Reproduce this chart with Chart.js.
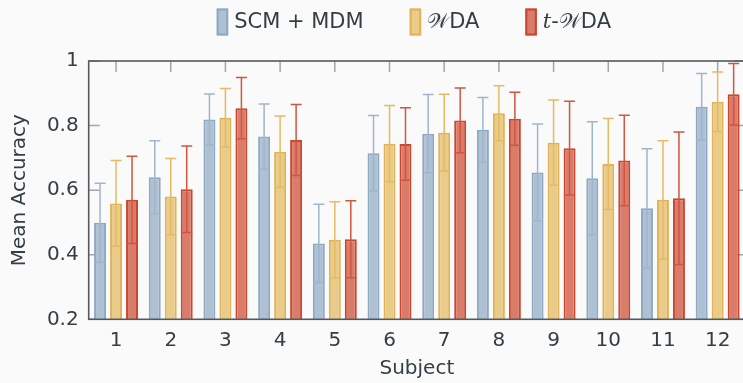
<!DOCTYPE html>
<html>
<head>
<meta charset="utf-8">
<script src="https://cdn.jsdelivr.net/npm/chart.js@4/dist/chart.umd.min.js"></script>
<style>
  html, body { margin: 0; padding: 0; background: #fafafa; overflow: hidden; }
</style>
</head>
<body>
<canvas id="accChart" width="746" height="383"></canvas>
<script>
// data
const subjects = ["1", "2", "3", "4", "5", "6", "7", "8", "9", "10", "11", "12"];
const seriesNames = ["SCM + MDM", "𝒲DA", "t-𝒲DA"];

const scmMean = [0.499, 0.640, 0.819, 0.766, 0.435, 0.714, 0.775, 0.787, 0.655, 0.637, 0.544, 0.858];
const scmStd  = [0.122, 0.113, 0.079, 0.101, 0.121, 0.117, 0.121, 0.100, 0.150, 0.175, 0.184, 0.103];
const wdaMean = [0.559, 0.580, 0.824, 0.719, 0.446, 0.744, 0.778, 0.838, 0.747, 0.681, 0.570, 0.874];
const wdaStd  = [0.133, 0.118, 0.091, 0.111, 0.118, 0.118, 0.119, 0.085, 0.132, 0.141, 0.183, 0.092];
const twdaMean = [0.570, 0.603, 0.854, 0.755, 0.448, 0.743, 0.816, 0.821, 0.730, 0.692, 0.575, 0.897];
const twdaStd  = [0.135, 0.134, 0.095, 0.110, 0.119, 0.112, 0.100, 0.082, 0.145, 0.140, 0.205, 0.095];

const yTicks = [0.2, 0.4, 0.6, 0.8, 1];

const fills   = ["#aec0d3", "#eacb89", "#db7c6b"];
const borders = ["#8ea8c2", "#e0b357", "#c9472f"];
const errCols = ["#9fb5cc", "#e4bb63", "#cf563f"];
const textCol = "#323e43";
const FONT = "'DejaVu Sans', sans-serif";

const stds = [scmStd, wdaStd, twdaStd];

// background
const bgPlugin = {
  id: "bg",
  beforeDraw(chart) {
    const ctx = chart.ctx;
    ctx.save();
    ctx.fillStyle = "#fafafa";
    ctx.fillRect(0, 0, chart.width, chart.height);
    ctx.restore();
  }
};

// frame + inward ticks (pgfplots look)
const framePlugin = {
  id: "frame",
  beforeDatasetsDraw(chart) {
    const { ctx, chartArea: a, scales } = chart;
    ctx.save();
    ctx.strokeStyle = "#a3a7a8";
    ctx.lineWidth = 1.5;
    subjects.forEach((s, i) => {
      const x = scales.x.getPixelForValue(i);
      ctx.beginPath();
      ctx.moveTo(x, a.top); ctx.lineTo(x, a.top + 11);
      ctx.moveTo(x, a.bottom); ctx.lineTo(x, a.bottom - 11);
      ctx.stroke();
    });
    yTicks.forEach(v => {
      const y = scales.y.getPixelForValue(v);
      ctx.beginPath();
      ctx.moveTo(a.left, y); ctx.lineTo(a.left + 11, y);
      ctx.moveTo(a.right, y); ctx.lineTo(a.right - 11, y);
      ctx.stroke();
    });
    ctx.restore();
  },
  afterDatasetsDraw(chart) {
    const { ctx, chartArea: a, scales } = chart;
    // error bars
    ctx.save();
    ctx.lineWidth = 1.5;
    chart.data.datasets.forEach((ds, i) => {
      const meta = chart.getDatasetMeta(i);
      ctx.strokeStyle = errCols[i];
      meta.data.forEach((bar, j) => {
        const m = ds.data[j], sd = stds[i][j];
        const yHi = scales.y.getPixelForValue(m + sd);
        const yLo = scales.y.getPixelForValue(m - sd);
        const hw = bar.width / 2 - 0.5;
        ctx.beginPath();
        ctx.moveTo(bar.x, yHi); ctx.lineTo(bar.x, yLo);
        ctx.moveTo(bar.x - hw, yHi); ctx.lineTo(bar.x + hw, yHi);
        ctx.moveTo(bar.x - hw, yLo); ctx.lineTo(bar.x + hw, yLo);
        ctx.stroke();
      });
    });
    ctx.strokeStyle = "#505b60";
    ctx.lineWidth = 1.6;
    ctx.strokeRect(a.left, a.top, a.right - a.left, a.bottom - a.top);
    ctx.restore();
  }
};

// legend with italic t
const legendPlugin = {
  id: "legendBox",
  afterDraw(chart) {
    const ctx = chart.ctx;
    const a = chart.chartArea;
    const size = 21;
    const normal = size + "px " + FONT;
    const ital = "italic " + size + "px 'DejaVu Serif', serif";
    const boxW = 11.5, boxH = 27, gapBox = 6, gapItem = 46;
    ctx.save();
    const items = seriesNames.map(name => {
      let segs = [];
      if (name.startsWith("t-")) {
        segs.push({ t: "t", f: ital });
        segs.push({ t: name.slice(1), f: normal });
      } else {
        segs.push({ t: name, f: normal });
      }
      let w = 0;
      segs.forEach(s => { ctx.font = s.f; s.w = ctx.measureText(s.t).width; w += s.w; });
      return { segs, w };
    });
    let total = 0;
    items.forEach((it, i) => { total += boxW + gapBox + it.w + (i ? gapItem : 0); });
    let x = (a.left + a.right) / 2 - 3 - total / 2;
    const cy = 22;
    items.forEach((it, i) => {
      ctx.fillStyle = fills[i];
      ctx.strokeStyle = borders[i];
      ctx.lineWidth = 2;
      ctx.fillRect(x, cy - boxH / 2, boxW, boxH);
      ctx.strokeRect(x + 1, cy - boxH / 2 + 1, boxW - 2, boxH - 2);
      x += boxW + gapBox;
      ctx.fillStyle = textCol;
      ctx.textBaseline = "middle";
      it.segs.forEach(s => {
        ctx.font = s.f;
        ctx.fillText(s.t, x, cy + 1);
        x += s.w;
      });
      x += gapItem;
    });
    ctx.restore();
  }
};

const ctxAcc = document.getElementById("accChart");

new Chart(ctxAcc, {
  type: "bar",
  data: {
    labels: subjects,
    datasets: [
      { label: seriesNames[0], data: scmMean, backgroundColor: fills[0], borderColor: borders[0], borderWidth: 2 },
      { label: seriesNames[1], data: wdaMean, backgroundColor: fills[1], borderColor: borders[1], borderWidth: 2 },
      { label: seriesNames[2], data: twdaMean, backgroundColor: fills[2], borderColor: borders[2], borderWidth: 2 },
    ],
  },
  options: {
    responsive: false,
    animation: false,
    devicePixelRatio: 1,
    categoryPercentage: 0.877,
    barPercentage: 0.75,
    layout: { padding: { top: 61, right: 1, left: 0, bottom: 0 } },
    plugins: {
      legend: { display: false },
      tooltip: { enabled: false },
    },
    scales: {
      x: {
        offset: true,
        grid: { display: false, drawTicks: false },
        border: { display: false },
        ticks: { color: textCol, font: { family: FONT, size: 20 }, padding: 9, maxRotation: 0 },
        title: { display: true, text: "Subject", color: textCol, font: { family: FONT, size: 20 }, padding: { top: 0, bottom: 2 } },
        afterFit(scale) { scale.height = 63.7; },
      },
      y: {
        min: 0.2,
        max: 1,
        grid: { display: false, drawTicks: false },
        border: { display: false },
        ticks: {
          stepSize: 0.2,
          color: textCol,
          font: { family: FONT, size: 20 },
          padding: 10,
          callback: (v) => Math.abs(v - 1) < 1e-9 ? "1" : v.toFixed(1),
        },
        title: { display: true, text: "Mean Accuracy", color: textCol, font: { family: FONT, size: 20 }, padding: { top: 8, bottom: 0 } },
        afterFit(scale) { scale.width = 88.7; },
      },
    },
  },
  plugins: [bgPlugin, framePlugin, legendPlugin],
});
</script>
</body>
</html>
